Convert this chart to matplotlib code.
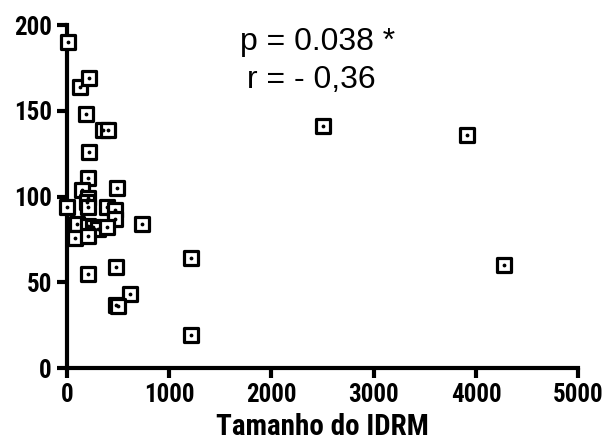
import numpy as np
import matplotlib.pyplot as plt

# tamanho do IDRM vs valor
idrm = [10, 130, 215, 186, 350, 400, 215, 205, 150, 205, 490,
        0, 195, 205, 390, 470, 470, 100, 205, 255, 300, 390,
        80, 205, 735, 205, 480, 620, 480, 500, 1213, 1213,
        2505, 3914, 4276]
valor = [190, 164, 169, 148, 139, 139, 126, 111, 104, 99, 105,
         94, 97, 94, 94, 92, 87, 84, 83, 82, 81, 82,
         76, 77, 84, 55, 59, 43, 37, 36, 64, 19,
         141, 136, 60]

plt.rcParams['font.family'] = ['Liberation Sans', 'DejaVu Sans']
narrow = ['Roboto Condensed', 'Liberation Sans', 'DejaVu Sans']

fig = plt.figure(figsize=(6.11, 4.47), dpi=100)
ax = fig.add_axes([0.1097, 0.1767, 0.8366, 0.7673])

ax.scatter(idrm, valor, marker='s', s=100, facecolor='white', edgecolor='black',
           linewidth=2.3, clip_on=False, zorder=3)
ax.scatter(idrm, valor, marker='o', s=3, color='black', clip_on=False, zorder=4)

ax.set_xlim(0, 5000)
ax.set_ylim(0, 200)
ax.set_xticks(range(0, 5001, 1000))
ax.set_yticks(range(0, 201, 50))

for s in ['top', 'right']:
    ax.spines[s].set_visible(False)
for s in ['left', 'bottom']:
    ax.spines[s].set_linewidth(3)
ax.tick_params(direction='out', length=7, width=3, pad=4)
for lab in ax.get_xticklabels() + ax.get_yticklabels():
    lab.set_fontweight('bold')
    lab.set_fontsize(18)
    lab.set_family(narrow)

ax.set_xlabel("Tamanho do IDRM", fontsize=21, fontweight='bold', labelpad=4,
              family=narrow)

ax.text(1690, 190, "p = 0.038 *", fontsize=23, va='center', ha='left')
ax.text(1760, 168, "r = - 0,36", fontsize=23, va='center', ha='left')

fig.savefig("out.png", dpi=100)
